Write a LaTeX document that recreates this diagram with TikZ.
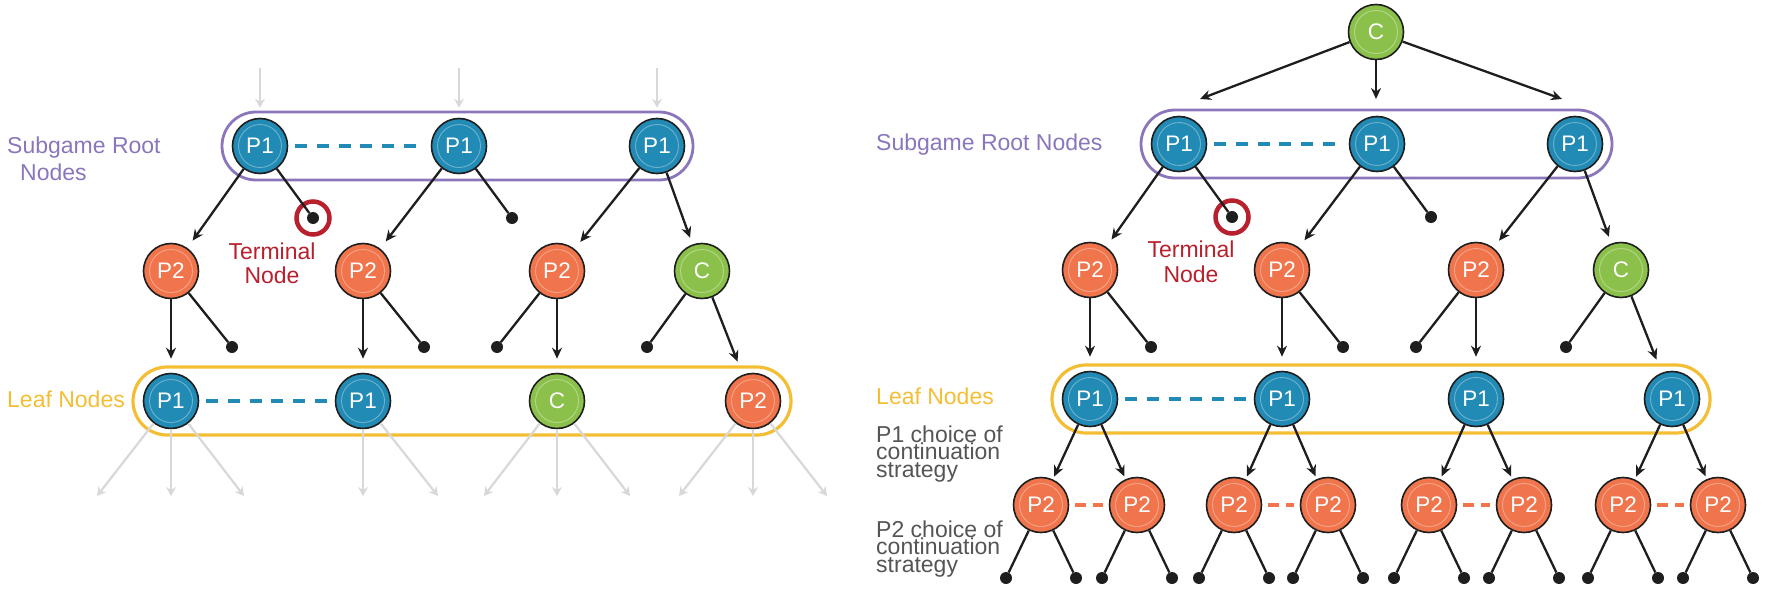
\documentclass[tikz,border=0pt]{standalone}
\usepackage{fontspec}
\setmainfont{Liberation Sans}
\usepackage{xcolor}
\usetikzlibrary{arrows.meta}
\definecolor{ponecol}{RGB}{33,138,181}
\definecolor{ptwocol}{RGB}{240,116,76}
\definecolor{chancecol}{RGB}{139,193,74}
\definecolor{rootcol}{RGB}{139,118,188}
\definecolor{leafcol}{RGB}{244,190,52}
\definecolor{termred}{RGB}{183,32,44}
\definecolor{fangrey}{RGB}{216,216,216}
\definecolor{txtgrey}{RGB}{85,85,85}
\definecolor{edgecol}{RGB}{30,30,30}

\begin{document}
\begin{tikzpicture}[x=1pt,y=-1pt,
	gnode/.style={circle,draw=edgecol,line width=1.6pt,minimum size=55pt,inner sep=0pt,text=white,
		font=\fontsize{22.5}{22.5}\selectfont,
		path picture={\draw[white,opacity=.35,line width=.9pt] (path picture bounding box.center) circle (21.5pt);}},
	pone/.style={gnode,fill=ponecol},
	ptwo/.style={gnode,fill=ptwocol},
	chance/.style={gnode,fill=chancecol},
	dot/.style={circle,fill=edgecol,inner sep=0pt,minimum size=12pt},
	ring/.style={circle,draw=termred,line width=4.5pt,minimum size=33pt,inner sep=0pt},
	lbl/.style={inner sep=0pt,anchor=base west,font=\fontsize{23}{27}\selectfont},
	box/.style={line width=2.8pt,rounded corners=34pt},
	tip/.style={-{Stealth[length=11pt,width=10pt]}},
	fan/.style={draw=fangrey,line width=2.2pt,-{Stealth[length=9pt,width=10pt,inset=3pt]}},
	bdash/.style={draw=ponecol,line width=4.5pt,dash pattern=on 12pt off 9.7pt,shorten <=7pt,shorten >=7pt},
	odash/.style={draw=ptwocol,line width=4pt,dash pattern=on 11pt off 7pt,shorten <=6pt,shorten >=6pt}]
\useasboundingbox (0,0) rectangle (1768,599);

%frames
\draw[box,draw=rootcol] (222,112) rectangle (693,180);
\draw[box,draw=leafcol,line width=3.2pt] (133,367) rectangle (791,435);
\draw[box,draw=rootcol] (1141,110) rectangle (1612,178);
\draw[box,draw=leafcol,line width=3.2pt] (1052,365) rectangle (1710,433);

%left tree
\coordinate (g1) at (260,68);
\coordinate (g2) at (459,68);
\coordinate (g3) at (657,68);
\node[pone] (r1) at (260,146){P1};
\node[pone] (r2) at (459,146){P1};
\node[pone] (r3) at (657,146){P1};
\node[dot] (t1) at (313,218){};
\node[ring] (t1r) at (313,218){};
\node[dot] (d1) at (512,218){};
\node[ptwo] (a1) at (171,271){P2};
\node[ptwo] (a2) at (363,271){P2};
\node[ptwo] (a3) at (557,271){P2};
\node[chance] (a4) at (702,271){C};
\node[dot] (d2) at (232,347){};
\node[dot] (d3) at (424,347){};
\node[dot] (d4) at (497,347){};
\node[dot] (d5) at (647,347){};
\node[pone] (l1) at (171,401){P1};
\node[pone] (l2) at (363,401){P1};
\node[chance] (l3) at (557,401){C};
\node[ptwo] (l4) at (753,401){P2};
\coordinate (h1) at (97,496);
\coordinate (h2) at (171,496);
\coordinate (h3) at (244,496);
\coordinate (h4) at (363,496);
\coordinate (h5) at (438,496);
\coordinate (h6) at (484,496);
\coordinate (h7) at (557,496);
\coordinate (h8) at (630,496);
\coordinate (h9) at (679,496);
\coordinate (h10) at (753,496);
\coordinate (h11) at (827,496);

% multi-line labels sit on the baseline of their last line
\node[lbl,text=rootcol,align=left] (subl) at (7,180){Subgame Root\\\hspace*{13pt}Nodes};
\node[lbl,text=leafcol] (leafl) at (7,407){Leaf Nodes};
\node[lbl,text=termred,anchor=base,align=center,font=\fontsize{23}{24}\selectfont] (terml) at (272,283){Terminal\\Node};

%right tree
\node[chance] (c0) at (1376,32){C};
\coordinate (k1) at (1200,99);
\coordinate (k2) at (1376,99);
\coordinate (k3) at (1562,99);
\node[pone] (R1) at (1179,144){P1};
\node[pone] (R2) at (1377,144){P1};
\node[pone] (R3) at (1575,144){P1};
\node[dot] (T1) at (1232,217){};
\node[ring] (T1r) at (1232,217){};
\node[dot] (D1) at (1431,217){};
\node[ptwo] (A1) at (1090,270){P2};
\node[ptwo] (A2) at (1282,270){P2};
\node[ptwo] (A3) at (1476,270){P2};
\node[chance] (A4) at (1621,270){C};
\node[dot] (D2) at (1151,347){};
\node[dot] (D3) at (1343,347){};
\node[dot] (D4) at (1416,347){};
\node[dot] (D5) at (1566,347){};
\node[pone] (L1) at (1090,399){P1};
\node[pone] (L2) at (1282,399){P1};
\node[pone] (L3) at (1476,399){P1};
\node[pone] (L4) at (1672,399){P1};
\node[ptwo] (B1) at (1041,505){P2};
\node[ptwo] (B2) at (1137,505){P2};
\node[ptwo] (B3) at (1234,505){P2};
\node[ptwo] (B4) at (1328,505){P2};
\node[ptwo] (B5) at (1429,505){P2};
\node[ptwo] (B6) at (1524,505){P2};
\node[ptwo] (B7) at (1623,505){P2};
\node[ptwo] (B8) at (1718,505){P2};
\node[dot] (F1) at (1006,578){};
\node[dot] (F2) at (1076,578){};
\node[dot] (F3) at (1102,578){};
\node[dot] (F4) at (1172,578){};
\node[dot] (F5) at (1199,578){};
\node[dot] (F6) at (1269,578){};
\node[dot] (F7) at (1293,578){};
\node[dot] (F8) at (1363,578){};
\node[dot] (F9) at (1394,578){};
\node[dot] (F10) at (1464,578){};
\node[dot] (F11) at (1489,578){};
\node[dot] (F12) at (1559,578){};
\node[dot] (F13) at (1588,578){};
\node[dot] (F14) at (1658,578){};
\node[dot] (F15) at (1683,578){};
\node[dot] (F16) at (1753,578){};

\node[lbl,text=rootcol] (subr) at (876,150){Subgame Root Nodes};
\node[lbl,text=termred,anchor=base,align=center,font=\fontsize{23}{25}\selectfont] (termr) at (1191,282){Terminal\\Node};
\node[lbl,text=leafcol] (leafr) at (876,404){Leaf Nodes};
\node[lbl,text=txtgrey,align=left,font=\fontsize{23}{17.5}\selectfont] (cho1) at (876,477){P1 choice of\\continuation\\strategy};
\node[lbl,text=txtgrey,align=left,font=\fontsize{23}{17.5}\selectfont] (cho2) at (876,572){P2 choice of\\continuation\\strategy};

\begin{scope}[line width=2.3pt,draw=edgecol]
	%incoming and outgoing edges
	\draw[fan,shorten >=10pt] (g1) -- (r1);
	\draw[fan,shorten >=10pt] (g2) -- (r2);
	\draw[fan,shorten >=10pt] (g3) -- (r3);
	\draw[fan] (l1) -- (h1);
	\draw[fan] (l1) -- (h2);
	\draw[fan] (l1) -- (h3);
	\draw[fan] (l2) -- (h4);
	\draw[fan] (l2) -- (h5);
	\draw[fan] (l3) -- (h6);
	\draw[fan] (l3) -- (h7);
	\draw[fan] (l3) -- (h8);
	\draw[fan] (l4) -- (h9);
	\draw[fan] (l4) -- (h10);
	\draw[fan] (l4) -- (h11);
	%left tree edges
	\draw[tip,shorten >=9pt] (r1) -- (a1);
	\draw (r1) -- (t1);
	\draw[tip,shorten >=9pt] (r2) -- (a2);
	\draw (r2) -- (d1);
	\draw[tip,shorten >=9pt] (r3) -- (a3);
	\draw[tip,shorten >=7pt] (r3) -- (a4);
	\draw[tip,shorten >=14pt] (a1) -- (l1);
	\draw (a1) -- (d2);
	\draw[tip,shorten >=14pt] (a2) -- (l2);
	\draw (a2) -- (d3);
	\draw (a3) -- (d4);
	\draw[tip,shorten >=14pt] (a3) -- (l3);
	\draw (a4) -- (d5);
	\draw[tip,shorten >=14pt] (a4) -- (l4);
	%right tree edges
	\draw[tip] (c0) -- (k1);
	\draw[tip] (c0) -- (k2);
	\draw[tip] (c0) -- (k3);
	\draw[tip,shorten >=9pt] (R1) -- (A1);
	\draw (R1) -- (T1);
	\draw[tip,shorten >=9pt] (R2) -- (A2);
	\draw (R2) -- (D1);
	\draw[tip,shorten >=9pt] (R3) -- (A3);
	\draw[tip,shorten >=7pt] (R3) -- (A4);
	\draw[tip,shorten >=14pt] (A1) -- (L1);
	\draw (A1) -- (D2);
	\draw[tip,shorten >=14pt] (A2) -- (L2);
	\draw (A2) -- (D3);
	\draw (A3) -- (D4);
	\draw[tip,shorten >=14pt] (A3) -- (L3);
	\draw (A4) -- (D5);
	\draw[tip,shorten >=14pt] (A4) -- (L4);
	\draw[tip,shorten >=3pt] (L1) -- (B1);
	\draw[tip,shorten >=3pt] (L1) -- (B2);
	\draw[tip,shorten >=3pt] (L2) -- (B3);
	\draw[tip,shorten >=3pt] (L2) -- (B4);
	\draw[tip,shorten >=3pt] (L3) -- (B5);
	\draw[tip,shorten >=3pt] (L3) -- (B6);
	\draw[tip,shorten >=3pt] (L4) -- (B7);
	\draw[tip,shorten >=3pt] (L4) -- (B8);
	\draw (B1) -- (F1);
	\draw (B1) -- (F2);
	\draw (B2) -- (F3);
	\draw (B2) -- (F4);
	\draw (B3) -- (F5);
	\draw (B3) -- (F6);
	\draw (B4) -- (F7);
	\draw (B4) -- (F8);
	\draw (B5) -- (F9);
	\draw (B5) -- (F10);
	\draw (B6) -- (F11);
	\draw (B6) -- (F12);
	\draw (B7) -- (F13);
	\draw (B7) -- (F14);
	\draw (B8) -- (F15);
	\draw (B8) -- (F16);
	%information sets
	\draw[bdash] (r1) -- (r2);
	\draw[bdash] (l1) -- (l2);
	\draw[bdash] (R1) -- (R2);
	\draw[bdash] (L1) -- (L2);
	\draw[odash] (B1) -- (B2);
	\draw[odash] (B3) -- (B4);
	\draw[odash] (B5) -- (B6);
	\draw[odash] (B7) -- (B8);
\end{scope}
\end{tikzpicture}
\end{document}
